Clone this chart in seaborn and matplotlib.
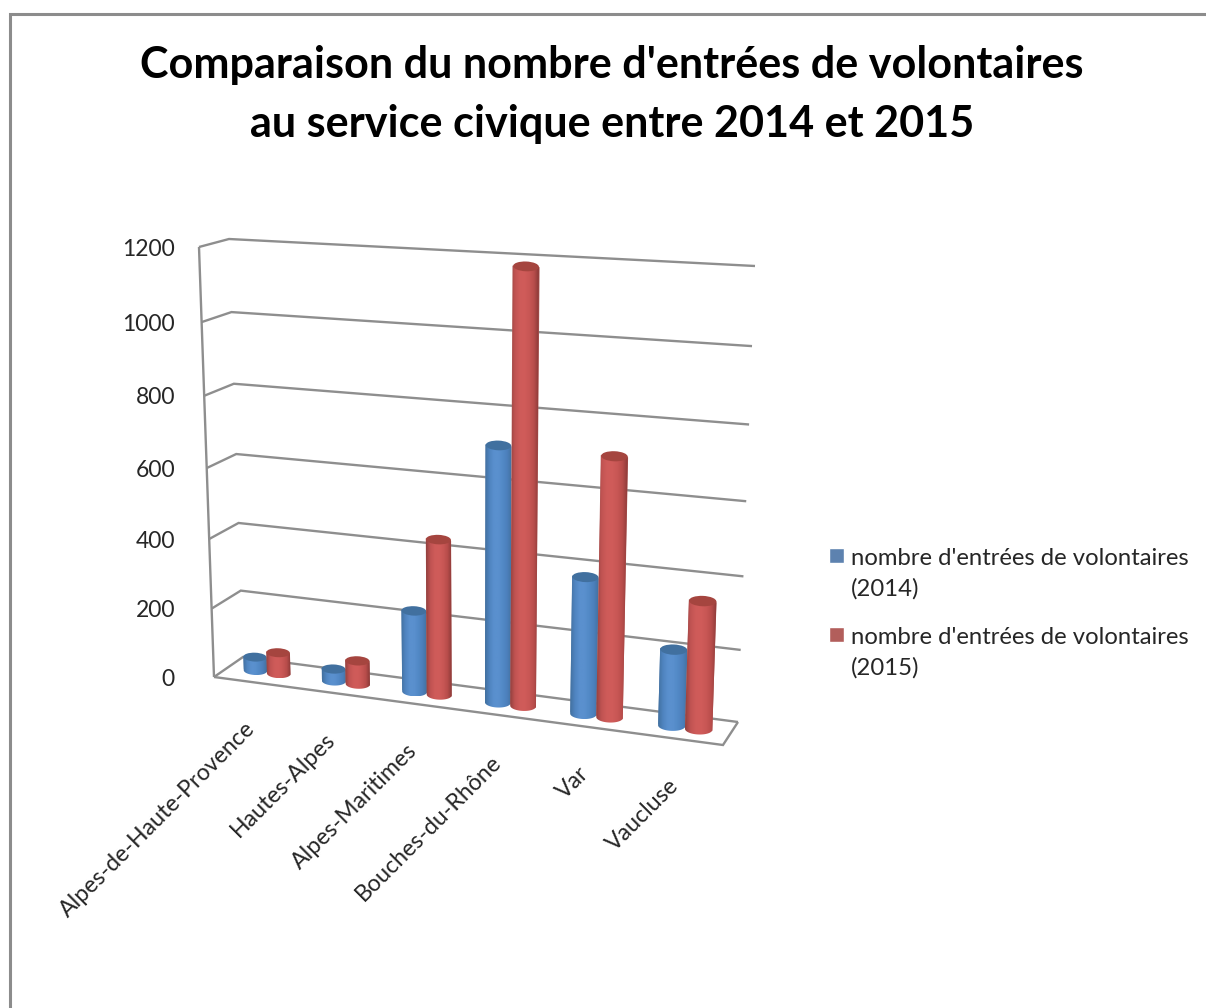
import numpy as np
import pandas as pd
import matplotlib
matplotlib.use("Agg")
import matplotlib.pyplot as plt
import seaborn as sns
from matplotlib.transforms import Transform, Affine2D
from matplotlib.patches import Polygon, Ellipse

departements = ["Alpes-de-Haute-Provence", "Hautes-Alpes", "Alpes-Maritimes",
                "Bouches-du-Rhône", "Var", "Vaucluse"]
entrees_2014 = [40, 35, 232, 712, 380, 210]
entrees_2015 = [62, 68, 440, 1183, 710, 350]
serie_2014 = "nombre d'entrées de volontaires\n(2014)"
serie_2015 = "nombre d'entrées de volontaires\n(2015)"
ticks = [0, 200, 400, 600, 800, 1000, 1200]
titre = "Comparaison du nombre d'entrées de volontaires\nau service civique entre 2014 et 2015"

W, H = 1206, 1008
sns.set_theme(style="white")
plt.rcParams["font.family"] = ["Lato", "DejaVu Sans"]

df = pd.DataFrame({
    "dept": departements * 2,
    "valeur": entrees_2014 + entrees_2015,
    "serie": [serie_2014] * 6 + [serie_2015] * 6,
})

fig = plt.figure(figsize=(W / 100, H / 100), dpi=100, facecolor="white")
ax = fig.add_axes([0, 0, 1, 1])
sns.barplot(data=df, x="dept", y="valeur", hue="serie",
            palette=["#4F81BD", "#C0504D"], width=0.6, ax=ax, errorbar=None)
handles, labels = ax.get_legend_handles_labels()
bars = [p for c in ax.containers for p in c]
n = len(departements)


def homography(src, dst):
    A, b = [], []
    for (x, y), (u, v) in zip(src, dst):
        A.append([x, y, 1, 0, 0, 0, -u * x, -u * y]); b.append(u)
        A.append([0, 0, 0, x, y, 1, -v * x, -v * y]); b.append(v)
    return np.append(np.linalg.solve(np.array(A, float), np.array(b, float)), 1).reshape(3, 3)


class Project(Transform):
    input_dims = output_dims = 2
    is_affine = False
    has_inverse = False

    def __init__(self, m):
        super().__init__()
        self.m = m

    def transform_non_affine(self, values):
        v = np.asarray(values, float)
        q = np.c_[v, np.ones(len(v))] @ self.m.T
        return q[:, :2] / q[:, 2:]


U0, U1, V0, V1 = -0.5, 5.5, 0, 1200
data_corners = [(U0, V0), (U1, V0), (U1, V1), (U0, V1)]
front_px = np.array([(214, 677), (723, 745), (739, 277), (199, 247)], float)
back_px = np.array([(243, 657), (738, 722), (755, 266), (229, 239)], float)
mid_px = (front_px + back_px) / 2
Pf = Project(homography(data_corners, front_px))
Pb = Project(homography(data_corners, back_px))
Pm = Project(homography(data_corners, mid_px))
pix = Affine2D().scale(1, -1).translate(0, H)   # image pixels -> display

GRID = "#8E8E8E"
TXT = "#262626"


def seg(points, lw=1.7, color=GRID, z=1):
    p = np.array(points, float)
    ax.plot(p[:, 0], p[:, 1], color=color, lw=lw, transform=pix, zorder=z,
            clip_on=False, solid_joinstyle="miter", solid_capstyle="butt")


# Frame of the chart area (top and left only are visible)
seg([(10, H), (10, 14), (W, 14)], lw=2.2, color="#8C8C8C")

# Walls and floor
for t in ticks:
    a = Pf.transform([(U0, t)])[0]
    b = Pb.transform([(U0, t)])[0]
    c = Pb.transform([(U1, t)])[0]
    seg([a, b, c])
    ax.text(175, a[1] + 2, str(t), transform=pix, ha="right", va="center",
            fontsize=16.5, color=TXT)
seg(Pf.transform([(U0, 0), (U0, 1200)]))
seg([Pb.transform([(U1, 0)])[0], Pf.transform([(U1, 0)])[0], Pf.transform([(U0, 0)])[0]])

# Cylinders built on the bars drawn by seaborn
def ramp(stops):
    pos = np.linspace(0, 1, 64)
    xs = np.linspace(0, 1, len(stops))
    rgb = np.array([matplotlib.colors.to_rgb(s) for s in stops])
    return np.stack([np.interp(pos, xs, rgb[:, i]) for i in range(3)], axis=1)[None, :, :]


ramps = [ramp(["#42709F", "#4F84C0", "#5A90CE", "#5A90CE", "#5289C6", "#4C7FBB", "#42719F"]),
         ramp(["#93403E", "#C05352", "#CE5B59", "#D05C5A", "#C85755", "#B84D4B", "#8C3A38"])]
tops = ["#41709F", "#A5453F"]

for i, bar in enumerate(bars):
    s = i // n
    cat = i % n
    z = 3 + cat * 10 + s * 4
    x0, w, h = bar.get_x(), bar.get_width(), bar.get_height()
    bl, br, tr, tl = Pm.transform([(x0, 0), (x0 + w, 0), (x0 + w, h), (x0, h)])
    bar.set_transform(Pm + pix)
    bar.set_zorder(z)
    bar.set_linewidth(0)
    bar.set_clip_on(False)
    a = np.linalg.norm(br - bl) / 2
    bb = a * 0.38
    ang = np.arctan2(br[1] - bl[1], br[0] - bl[0]) * 0.3
    cb, ct = (bl + br) / 2, (tl + tr) / 2
    th = np.linspace(0, np.pi, 40)
    arc = np.c_[cb[0] + a * np.cos(th) * np.cos(ang) - bb * np.sin(th) * np.sin(ang),
                cb[1] + a * np.cos(th) * np.sin(ang) + bb * np.sin(th) * np.cos(ang)]
    tl2 = ct - a * np.array([np.cos(ang), np.sin(ang)])
    tr2 = ct + a * np.array([np.cos(ang), np.sin(ang)])
    body = np.vstack([[tl2], [tr2], arc])
    clip = Polygon(body, closed=True, transform=pix)
    im = ax.imshow(ramps[s], extent=(body[:, 0].min(), body[:, 0].max(),
                                     body[:, 1].max(), body[:, 1].min()),
                   aspect="auto", transform=pix, zorder=z + 1, interpolation="bilinear")
    im.set_clip_path(clip)
    ax.add_patch(Ellipse(ct, 2 * a, 2 * bb, angle=np.degrees(ang), transform=pix,
                         facecolor=tops[s], edgecolor="none", zorder=z + 2, clip_on=False))

ax.set_xlim(U0, U1)
ax.set_ylim(V0, V1)
ax.set_axis_off()

# Category labels
for k, name in enumerate(departements):
    p = Pf.transform([(k, 0)])[0]
    ax.text(p[0] - 9, p[1] + 36, name, transform=pix, rotation=45, ha="right", va="top",
            rotation_mode="anchor", fontsize=16.7, color=TXT)

fig.text(612 / W, 1 - 94.5 / H, titre, ha="center", va="center", fontsize=31.1,
         fontweight="bold", color="black", linespacing=1.55)

leg = ax.legend(handles, labels, loc="upper left", frameon=False,
                bbox_to_anchor=(829 / W, 1 - 548 / H), bbox_transform=fig.transFigure,
                fontsize=17.2, labelcolor=TXT, handlelength=0.62, handleheight=0.62,
                handletextpad=0.3, labelspacing=1.16, borderpad=0, borderaxespad=0)
leg.set_zorder(200)
for row in leg._legend_handle_box.get_children()[0].get_children():
    row.align = "top"
for t in leg.get_texts():
    t.set_linespacing(1.5)

fig.savefig("out.png", dpi=100)
